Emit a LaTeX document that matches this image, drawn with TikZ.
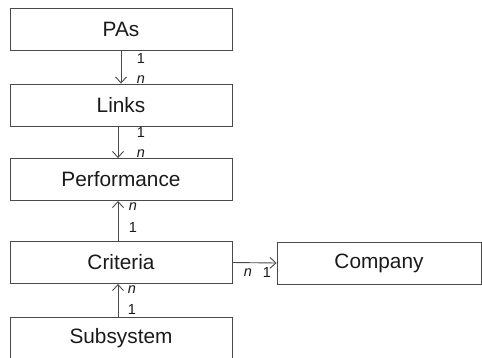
\documentclass[tikz,border=0pt]{standalone}
\usepackage{fontspec}
\setmainfont{Liberation Sans}
\usetikzlibrary{arrows.meta}
\definecolor{ln}{HTML}{4a4a4a}
\definecolor{tx}{HTML}{1a1a1a}
\tikzset{
  ent/.style={draw=ln, line width=0.9pt, minimum width=222pt, minimum height=42pt, inner sep=0pt, text=tx, font=\fontsize{20.8}{23}\selectfont},
  arr/.style={draw=ln, line width=0.9pt, -{Straight Barb[length=6pt,width=11pt]}},
  card/.style={text=tx, inner sep=0pt, font=\fontsize{14.5}{16}\selectfont},
}
\begin{document}
\begin{tikzpicture}[x=1pt,y=-1pt]
\useasboundingbox (0,0) rectangle (482,357);
\clip (0,0) rectangle (482,357);
\node[ent] (pas) at (121,29) {PAs};
\node[ent] (links) at (121,105) {Links};
\node[ent] (perf) at (121,179.5) {Performance};
\node[ent] (crit) at (121,262.5) {Criteria};
\node[ent, minimum width=204pt] (comp) at (379,263) {Company};
\node[ent] (sub) at (121,338) {Subsystem};
\draw[arr] (pas.south) -- (links.north);
\draw[arr] ([xshift=-3pt]links.south) -- ([xshift=-3pt]perf.north);
\draw[arr] ([xshift=-3pt]crit.north) -- ([xshift=-3pt]perf.south);
\draw[arr] ([xshift=-3pt]sub.north) -- ([xshift=-3pt]crit.south);
\draw[arr] (crit.east) -- (comp.west);
\node[card] (c1a) at (141,59) {1};
\node[card] (c1b) at (141,80) {\itshape n};
\node[card] (c2a) at (141,133) {1};
\node[card] (c2b) at (141,154) {\itshape n};
\node[card] (c3a) at (133,207) {\itshape n};
\node[card] (c3b) at (133,228) {1};
\node[card] (c4a) at (132,290) {\itshape n};
\node[card] (c4b) at (132,310) {1};
\node[card] (c5a) at (248,273) {\itshape n};
\node[card] (c5b) at (267,273) {1};
\end{tikzpicture}
\end{document}
